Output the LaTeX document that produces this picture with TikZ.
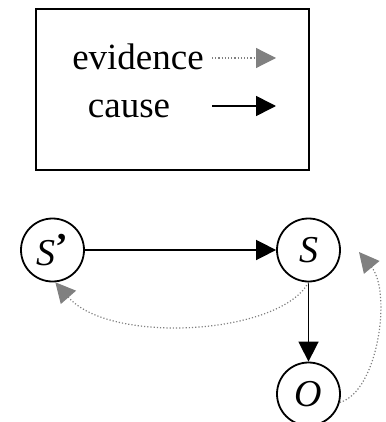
\documentclass[tikz,border=0pt]{standalone}
\usepackage{fontspec}
\setmainfont{Liberation Serif}
\usepackage{tikz}
\usetikzlibrary{arrows.meta}
\usepackage{xcolor}
\definecolor{evgray}{RGB}{128,128,128}

\begin{document}
\begin{tikzpicture}[x=1pt,y=-1pt,
    state/.style={draw,circle,line width=1.8pt,minimum size=63pt,inner sep=0pt,
      font=\fontsize{38}{42}\selectfont\itshape},
    legtext/.style={anchor=base,inner sep=0pt,font=\fontsize{37}{42}\selectfont},
    cause/.style={line width=1.6pt,-{Triangle[length=20pt,width=20pt]}},
    evidence/.style={evgray,line width=1.2pt,dotted,-{Triangle[length=20pt,width=20pt]}},
  ]
  \useasboundingbox (0,0) rectangle (385,422);

  % legend
  \draw[line width=2pt] (36,9) rectangle (309,170);
  \node[legtext] (ev) at (138,70) {evidence};
  \node[legtext] (ca) at (129,118) {cause};
  \coordinate (evA) at (212,58);
  \coordinate (evB) at (276,58);
  \coordinate (caA) at (212,106);
  \coordinate (caB) at (276,106);
  \draw[evidence] (evA) -- (evB);
  \draw[cause] (caA) -- (caB);

  % states
  \node[state] (sp) at (52.5,250) {S\raisebox{6pt}{\upshape\textbf{’}}};
  \node[state] (s) at (308.5,250) {S};
  \node[state] (o) at (308.5,394) {O};
  \coordinate (sup) at (359,252);

  \draw[cause] (sp) -- (s);
  \draw[cause] (s) -- (o);
  \draw[evidence] (s.south) .. controls (280,335) and (110,345) .. (sp.-85);
  \draw[evidence] (o.-15) .. controls (378,392) and (392,292) .. (sup);
\end{tikzpicture}
\end{document}
